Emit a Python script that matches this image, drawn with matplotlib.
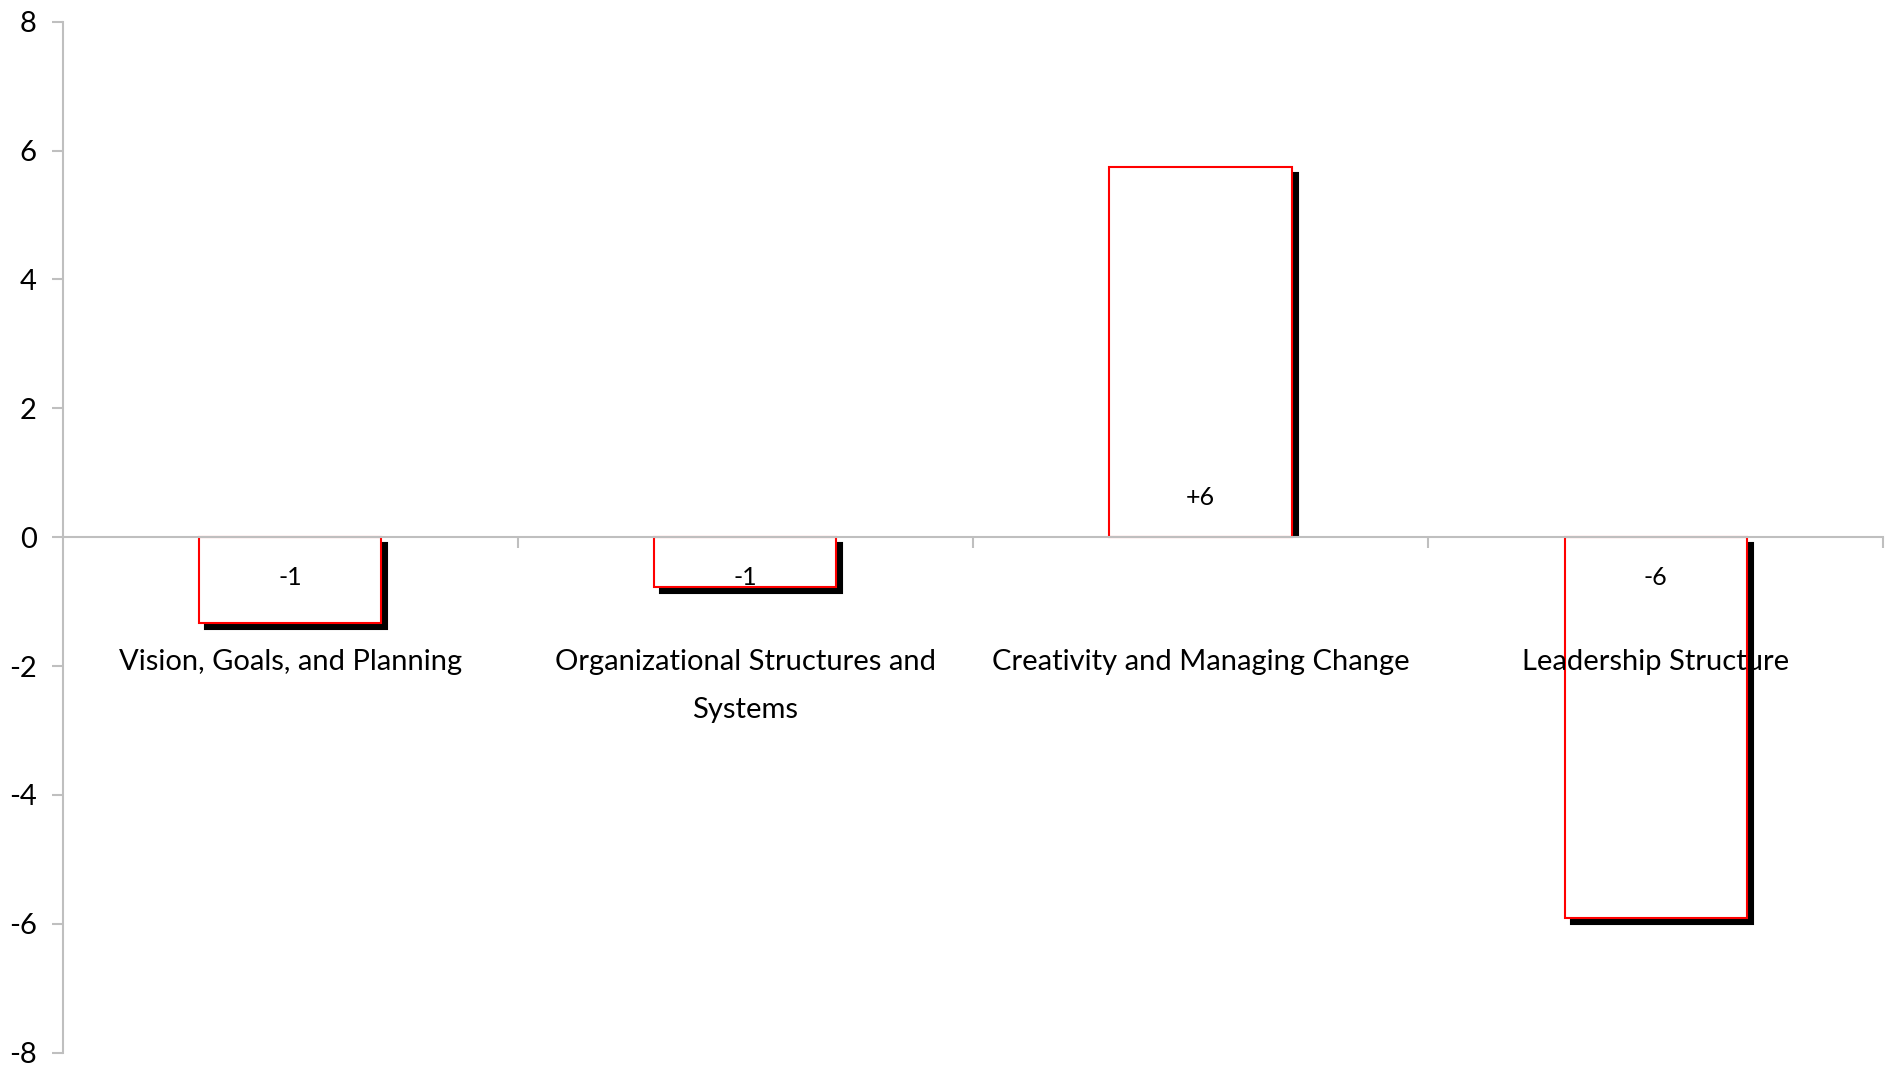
import matplotlib
matplotlib.use("Agg")
import matplotlib.pyplot as plt
from matplotlib.patches import Rectangle
from matplotlib.transforms import ScaledTranslation

categories = ["Vision, Goals, and Planning",
              "Organizational Structures and\nSystems",
              "Creativity and Managing Change",
              "Leadership Structure"]
values = [-1.33, -0.77, 5.74, -5.91]
bar_labels = ["-1", "-1", "+6", "-6"]
yticks = [-8, -6, -4, -2, 0, 2, 4, 6, 8]

plt.rcParams['font.family'] = ['Lato', 'DejaVu Sans']
GRAY = "#BFBFBF"

fig = plt.figure(figsize=(18.95, 10.66), dpi=100)
ax = fig.add_axes([0.0332, 0.0125, 0.9605, 0.9671])

x = list(range(len(categories)))
width = 0.4

shadow_tr = ax.transData + ScaledTranslation(6/100, -6/100, fig.dpi_scale_trans)
shadows = ax.bar(x, values, width, color="black", edgecolor="black", linewidth=1.5,
                 transform=shadow_tr, zorder=2)
clip_rect = Rectangle((-0.5, 0), 4, 8, transform=ax.transData)
for p, v in zip(shadows.patches, values):
    if v > 0:
        p.set_clip_path(clip_rect)
ax.bar(x, values, width, color="white", edgecolor="#FF0000", linewidth=1.5, zorder=3)

for xi, v, lab in zip(x, values, bar_labels):
    off = 0.62 if v > 0 else -0.62
    ax.text(xi, off, lab, ha="center", va="center", fontsize=18, zorder=5)

for xi, cat in zip(x, categories):
    for i, line in enumerate(cat.split("\n")):
        ax.annotate(line, xy=(xi, -1.93), xytext=(0, -48 * i),
                    textcoords="offset pixels", ha="center", va="center",
                    fontsize=21, zorder=6)

ax.set_xlim(-0.5, 3.5)
ax.set_ylim(-8, 8)
ax.set_yticks(yticks)
ax.set_yticklabels([str(t) for t in yticks])
ax.set_xticks([0.5, 1.5, 2.5, 3.5])
ax.set_xticklabels([])

for s in ["top", "right"]:
    ax.spines[s].set_visible(False)
ax.spines["left"].set_color(GRAY)
ax.spines["left"].set_linewidth(1.5)
ax.spines["bottom"].set_position(("data", 0))
ax.spines["bottom"].set_color(GRAY)
ax.spines["bottom"].set_linewidth(1.5)
ax.spines["bottom"].set_zorder(4)
ax.tick_params(axis="y", direction="out", length=8, width=1.5, color=GRAY,
               labelsize=21, pad=11)
ax.tick_params(axis="x", direction="out", length=8, width=1.5, color=GRAY)

fig.savefig("out.png", dpi=100)
